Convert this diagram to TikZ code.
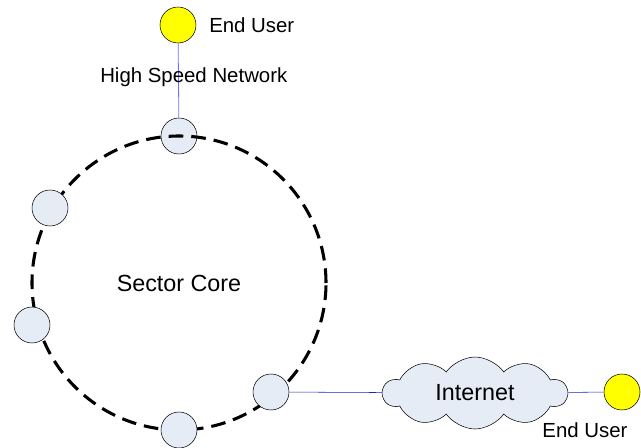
\documentclass[tikz,border=0pt]{standalone}
\usepackage{fontspec}
\setmainfont{Liberation Sans}
\usetikzlibrary{shapes.symbols, positioning}
\definecolor{nodefill}{RGB}{230, 236, 246}
\definecolor{userfill}{RGB}{255, 255, 0}
\definecolor{lightlink}{RGB}{110, 110, 255}
\definecolor{darklink}{RGB}{30, 30, 210}

\tikzset{
  ringnode/.style={circle, draw, fill=nodefill, minimum size=27pt, inner sep=0pt},
  usernode/.style={circle, draw, fill=userfill, minimum size=27pt, inner sep=0pt},
  ringline/.style={line width=2.3pt, dash pattern=on 11pt off 6pt},
  labeltext/.style={font=\fontsize{15.3}{18}\selectfont, inner sep=0pt},
  bigtext/.style={font=\fontsize{17.5}{20}\selectfont, inner sep=0pt}
}

\begin{document}
\begin{tikzpicture}[x=0.75pt, y=-0.75pt]
    \useasboundingbox (0,0) rectangle (641,448);

    % sector ring and its nodes
    \coordinate (core) at (179,283);
    \node[ringnode] (ntop) at (179,136) {};
    \draw[ringline] (core) circle[radius=110.25pt];
    \node[ringnode] (nleftup) at (50,208) {};
    \node[ringnode] (nleftlow) at (32,325) {};
    \node[ringnode] (nbottom) at (179,430) {};
    \node[ringnode] (nright) at (271,392) {};
    \node[bigtext] (corelabel) at (core) {Sector Core};

    % end users and internet
    \node[usernode] (usertop) at (178,25) {};
    \node[labeltext, anchor=west] (usertoplabel) at (209,25) {End User};
    \node[cloud, cloud puffs=10, cloud puff arc=110, cloud ignores aspect, draw,
          fill=nodefill, minimum width=138pt, minimum height=54pt, inner sep=0pt,
          bigtext] (inet) at (475,393) {Internet};
    \node[usernode] (userright) at (622,392) {};
    \node[labeltext] (userrightlabel) at (585,430) {End User};

    % links
    \draw[lightlink, line width=0.6pt] (ntop) -- (usertop);
    \node[labeltext, anchor=west] (hsnlabel) at (100,77) {High Speed Network};
    \draw[darklink] (nright) -- (inet);
    \draw[darklink] (inet) -- (userright);
\end{tikzpicture}
\end{document}
